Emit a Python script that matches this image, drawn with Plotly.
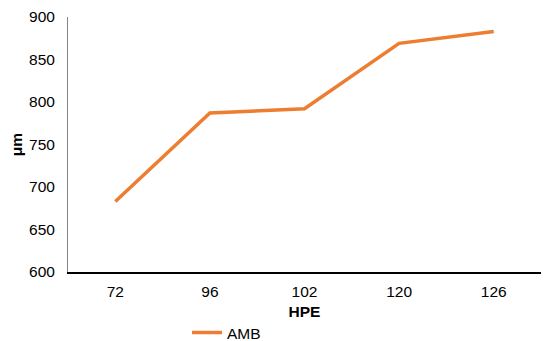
import plotly.graph_objects as go

categories = ["72", "96", "102", "120", "126"]
amb_values = [683, 787, 792, 869, 883]
y_ticks = [600, 650, 700, 750, 800, 850, 900]

fig = go.Figure()
fig.add_trace(go.Scatter(
    x=categories, y=amb_values, mode="lines", name="AMB",
    line=dict(color="#ED7D31", width=3.5),
))

FAM = "Liberation Sans, Arial, sans-serif"
font = dict(family=FAM, size=15.5, color="#000000")
fig.update_layout(
    width=543, height=333,
    margin=dict(l=60, r=10, t=9, b=69, autoexpand=False),
    paper_bgcolor="white", plot_bgcolor="white",
    font=font,
    showlegend=True,
    legend=dict(orientation="h", x=0.2516, xanchor="left", y=-0.239, yanchor="middle",
                font=dict(family=FAM, size=15.5),
                itemwidth=30, bgcolor="rgba(0,0,0,0)"),
    xaxis=dict(type="category", range=[-0.5, 4.5], showline=True, linecolor="#000000", linewidth=1.5,
               ticks="outside", tickcolor="rgba(0,0,0,0)", ticklen=5,
               showgrid=False, zeroline=False,
               title=dict(text="<b>HPE</b>", standoff=7, font=dict(size=15.5))),
    yaxis=dict(range=[600, 900], tickvals=y_ticks, showline=True, linecolor="#868686",
               linewidth=1, ticks="outside", tickcolor="rgba(0,0,0,0)", ticklen=9,
               showgrid=False, zeroline=False,
               title=dict(text="<b>μm</b>", standoff=7, font=dict(size=15.5))),
)
fig.write_html("out.html")
